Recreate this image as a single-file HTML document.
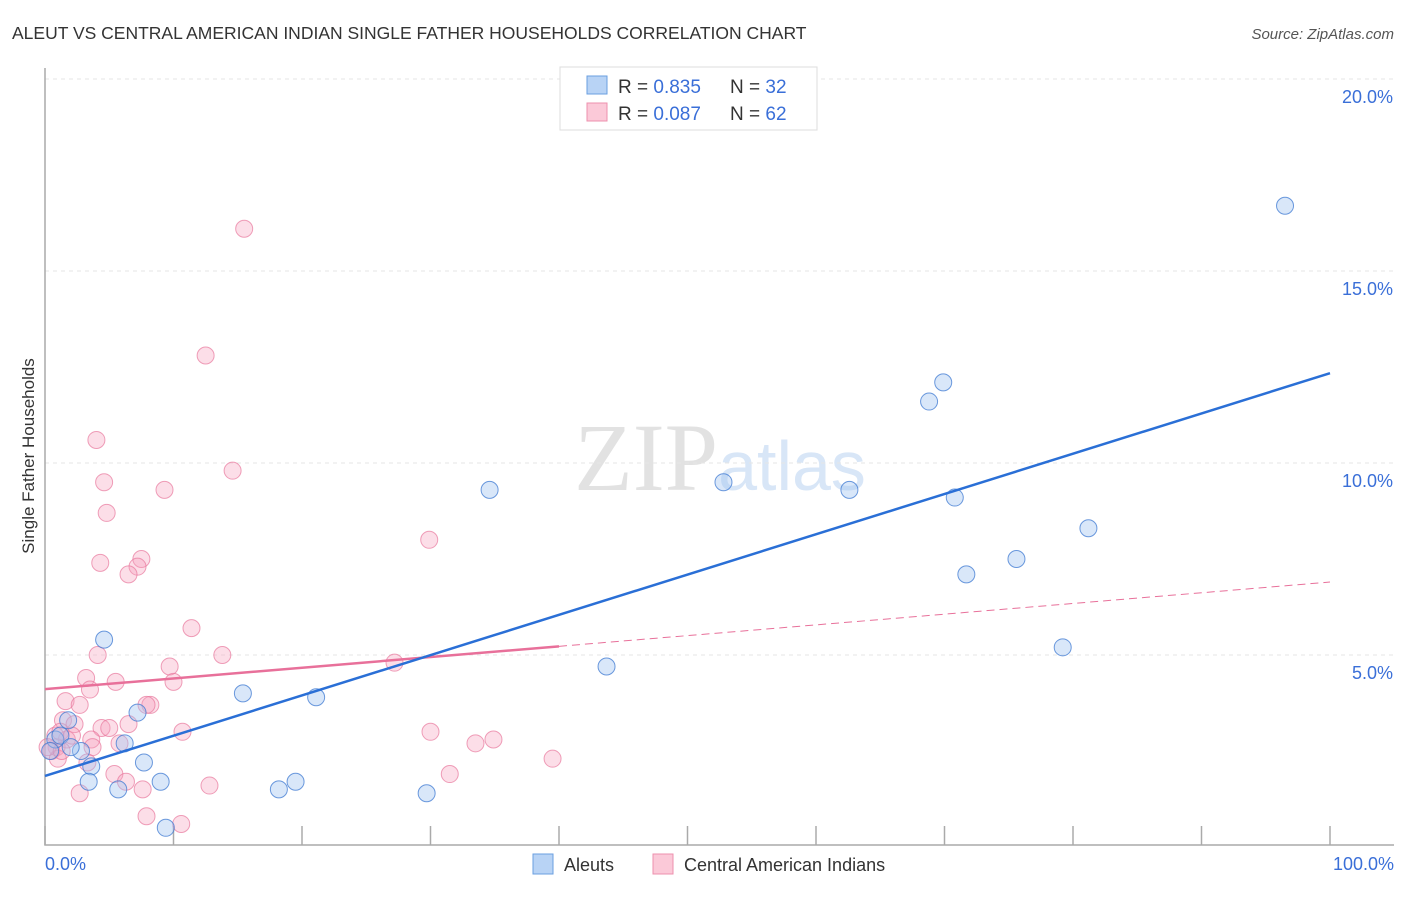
<!DOCTYPE html>
<html><head><meta charset="utf-8"><style>
body{margin:0;background:#fff;font-family:"Liberation Sans",sans-serif}
</style></head><body>
<svg id="chart" width="1406" height="892" xmlns="http://www.w3.org/2000/svg" font-family="Liberation Sans, sans-serif">
<text x="12" y="39" font-size="17.5" fill="#333">ALEUT VS CENTRAL AMERICAN INDIAN SINGLE FATHER HOUSEHOLDS CORRELATION CHART</text>
<text x="1394" y="39" font-size="15" fill="#555" font-style="italic" text-anchor="end">Source: ZipAtlas.com</text>
<text x="720" y="490" font-size="96" fill="#e2e2e2" text-anchor="middle" font-family="Liberation Serif, serif">ZIP<tspan fill="#d8e6f7" font-family="Liberation Sans, sans-serif" font-size="70">atlas</tspan></text>
<g id="grid"></g>
<g id="axes"></g>
<g id="marks"></g>
<text transform="translate(34,456) rotate(-90)" font-size="17" fill="#333" text-anchor="middle">Single Father Households</text>
<g>
<rect x="560" y="67" width="257" height="63" fill="#fff" stroke="#ddd"/>
<rect x="587" y="76" width="20" height="18" fill="#b8d3f5" stroke="#6a9fe0"/>
<rect x="587" y="103" width="20" height="18" fill="#fbc9d8" stroke="#ee90ae"/>
<text x="618" y="93" font-size="19" fill="#333">R = <tspan fill="#3a6fd8">0.835</tspan></text>
<text x="730" y="93" font-size="19" fill="#333">N = <tspan fill="#3a6fd8">32</tspan></text>
<text x="618" y="120" font-size="19" fill="#333">R = <tspan fill="#3a6fd8">0.087</tspan></text>
<text x="730" y="120" font-size="19" fill="#333">N = <tspan fill="#3a6fd8">62</tspan></text>
</g>
<g>
<rect x="533" y="854" width="20" height="20" fill="#b8d3f5" stroke="#6a9fe0"/>
<text x="564" y="871" font-size="18" fill="#333">Aleuts</text>
<rect x="653" y="854" width="20" height="20" fill="#fbc9d8" stroke="#ee90ae"/>
<text x="684" y="871" font-size="18" fill="#333">Central American Indians</text>
</g>
</svg>
<script>
const yTicks=[5,10,15,20];
const yTickLabels=["5.0%","10.0%","15.0%","20.0%"];
const xTicks=[0,10,20,30,40,50,60,70,80,90,100];
const aleutX=[96.5,69.9,68.8,34.6,52.8,62.6,70.8,81.2,75.6,71.7,79.2,43.7,4.6,15.4,21.1,7.2,1.8,6.2,2.8,3.6,7.7,3.4,9.0,5.7,18.2,19.5,29.7,9.4,0.8,0.4,1.2,2.0];
const aleutY=[16.7,12.1,11.6,9.3,9.5,9.3,9.1,8.3,7.5,7.1,5.2,4.7,5.4,4.0,3.9,3.5,3.3,2.7,2.5,2.1,2.2,1.7,1.7,1.5,1.5,1.7,1.4,0.5,2.8,2.5,2.9,2.6];
const camX=[15.5,12.5,4.0,14.6,4.6,9.3,4.8,29.9,4.3,7.5,7.2,6.5,11.4,4.1,13.8,9.7,27.2,3.2,5.5,10.0,3.5,1.6,8.2,7.9,2.7,1.4,2.3,4.4,6.5,5.0,3.6,10.7,30.0,34.9,33.5,5.8,3.7,1.7,0.9,0.5,1.0,3.3,5.4,6.3,31.5,39.5,12.8,2.7,7.6,7.9,10.6,0.8,1.2,2.1,0.2,1.3];
const camY=[16.1,12.8,10.6,9.8,9.5,9.3,8.7,8.0,7.4,7.5,7.3,7.1,5.7,5.0,5.0,4.7,4.8,4.4,4.3,4.3,4.1,3.8,3.7,3.7,3.7,3.3,3.2,3.1,3.2,3.1,2.8,3.0,3.0,2.8,2.7,2.7,2.6,2.8,2.6,2.5,2.3,2.2,1.9,1.7,1.9,2.3,1.6,1.4,1.5,0.8,0.6,2.9,3.0,2.9,2.6,2.5];
const blueTrend=[1.85,12.34];
const pinkTrend=[4.11,6.9];
const pinkSolidEnd=40;
const X=v=>45+v*12.85, Y=v=>847-v*38.4;
const NS="http://www.w3.org/2000/svg";
function mk(p,t,a){const e=document.createElementNS(NS,t);for(const k in a)e.setAttribute(k,a[k]);document.getElementById(p).appendChild(e);return e;}
yTicks.forEach((t,i)=>{
 const l=mk('grid','line',{x1:45,x2:1394,y1:Y(t),y2:Y(t),stroke:'#e6e6e6','stroke-dasharray':'4,4'});
 
 
 const tx=mk('grid','text',{x:1393,y:Y(t)+24,'font-size':18,fill:'#3a6fd8','text-anchor':'end'});
 tx.textContent=yTickLabels[i];
 
 
});
const ax=mk('axes','path',{d:'M45,68 V845 H1394',stroke:'#aaa',fill:'none','stroke-width':1.5});


xTicks.forEach(t=>{const l=mk('axes','line',{x1:X(t),x2:X(t),y1:826,y2:845,stroke:'#aaa','stroke-width':1.5});
 
 });
const xl0=mk('axes','text',{x:45,y:870,'font-size':18,fill:'#3a6fd8'});xl0.textContent='0.0%';


const xl1=mk('axes','text',{x:1394,y:870,'font-size':18,fill:'#3a6fd8','text-anchor':'end'});xl1.textContent='100.0%';


camX.forEach((v,i)=>{const c=mk('marks','circle',{cx:X(v),cy:Y(camY[i]),r:8.5,fill:'rgba(246,160,188,0.35)',stroke:'rgba(232,120,156,0.7)'});
 
 });
aleutX.forEach((v,i)=>{const c=mk('marks','circle',{cx:X(v),cy:Y(aleutY[i]),r:8.5,fill:'rgba(160,196,240,0.4)',stroke:'rgba(60,120,210,0.75)'});
 
 });
const pm=pinkTrend[0]+(pinkTrend[1]-pinkTrend[0])*pinkSolidEnd/100;
const p1=mk('marks','line',{x1:X(0),y1:Y(pinkTrend[0]),x2:X(pinkSolidEnd),y2:Y(pm),stroke:'#e8709a','stroke-width':2.5});


const p2=mk('marks','line',{x1:X(pinkSolidEnd),y1:Y(pm),x2:X(100),y2:Y(pinkTrend[1]),stroke:'#e8709a','stroke-width':1,'stroke-dasharray':'8,5'});


const b=mk('marks','line',{x1:X(0),y1:Y(blueTrend[0]),x2:X(100),y2:Y(blueTrend[1]),stroke:'#2a6fd6','stroke-width':2.5});


</script>
</body></html>
